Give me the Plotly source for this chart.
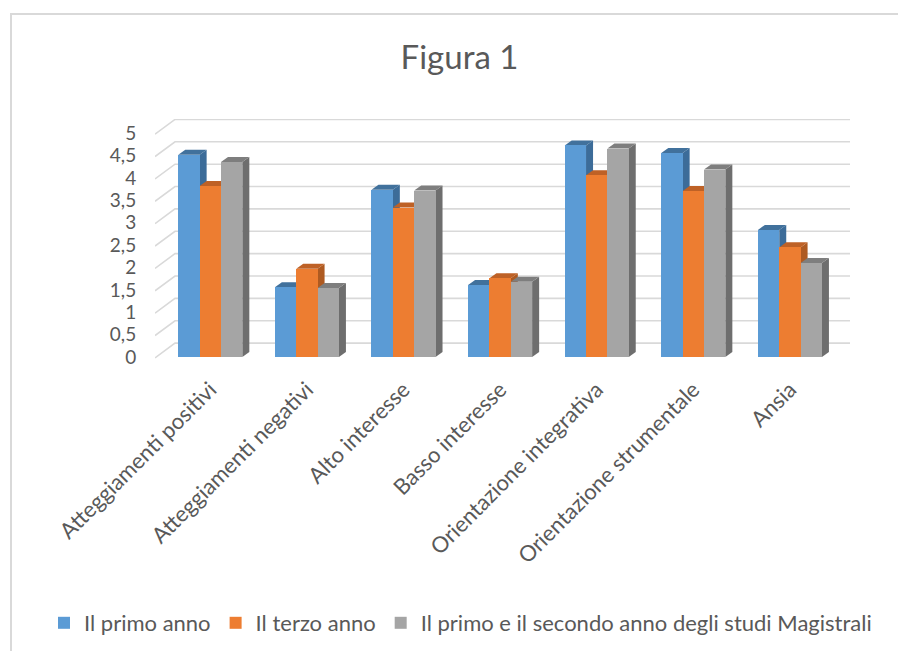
import plotly.graph_objects as go

categories = ["Atteggiamenti positivi", "Atteggiamenti negativi", "Alto interesse",
              "Basso interesse", "Orientazione integrativa", "Orientazione strumentale", "Ansia"]
series_names = ["Il primo anno", "Il terzo anno",
                "Il primo e il secondo anno degli studi Magistrali"]
primo = [4.52, 1.56, 3.74, 1.61, 4.73, 4.56, 2.84]
terzo = [3.82, 1.97, 3.34, 1.76, 4.06, 3.71, 2.45]
magistrali = [4.36, 1.54, 3.72, 1.68, 4.66, 4.19, 2.10]
tick_vals = [0, 0.5, 1, 1.5, 2, 2.5, 3, 3.5, 4, 4.5, 5]
tick_text = ["0", "0,5", "1", "1,5", "2", "2,5", "3", "3,5", "4", "4,5", "5"]

front_colors = ["#5B9BD5", "#ED7D31", "#A5A5A5"]
side_colors = ["#3C6C99", "#AE5A21", "#6E6E6E"]
top_colors = ["#41719C", "#BE6126", "#7E7E7E"]

FONT = "Lato, Open Sans, sans-serif"
TXT = "#595959"

W, H = 898, 651
L, R, T, B = 155, 48, 119, 290
bar_w = 0.221
ddx, ddy = 0.0725, 0.112        # bar depth (oblique projection)
fdx, fdy = 0.207, 0.31          # floor/wall depth
x_lo, x_hi = -0.5725, 6.622
y_lo, y_hi = -0.09, 5.32

pw, ph = W - L - R, H - T - B


def px_to_paper_x(px):
    return (px - L) / pw


def py_to_paper_y(py):
    return (H - B - py) / ph


fig = go.Figure()
shapes = []

# gridlines on side wall + back wall
for v in tick_vals:
    path = f"M {x_lo},{v - 0.02} L {x_lo + fdx},{v + fdy} L {x_hi},{v + fdy}"
    shapes.append(dict(type="path", path=path, xref="x", yref="y", layer="below",
                       line=dict(color="#D9D9D9", width=1.6)))

series = [primo, terzo, magistrali]
offsets = [-bar_w, 0.0, bar_w]
for s, (vals, off) in enumerate(zip(series, offsets)):
    xs = [i + off for i in range(len(categories))]
    fig.add_trace(go.Bar(x=xs, y=vals, width=bar_w, name=series_names[s],
                         marker=dict(color=front_colors[s], line=dict(width=0)),
                         hoverinfo="y+name"))
    for xc, v in zip(xs, vals):
        xl, xr = xc - bar_w / 2, xc + bar_w / 2
        side = f"M {xr},0 L {xr + ddx},{ddy} L {xr + ddx},{v + ddy} L {xr},{v} Z"
        top = f"M {xl},{v} L {xr},{v} L {xr + ddx},{v + ddy} L {xl + ddx},{v + ddy} Z"
        shapes.append(dict(type="path", path=side, xref="x", yref="y", layer="between",
                           fillcolor=side_colors[s], line=dict(width=0)))
        shapes.append(dict(type="path", path=top, xref="x", yref="y", layer="between",
                           fillcolor=top_colors[s], line=dict(width=0)))

# chart border
shapes.append(dict(type="rect", xref="paper", yref="paper",
                   x0=px_to_paper_x(11), x1=px_to_paper_x(910),
                   y0=py_to_paper_y(670), y1=py_to_paper_y(14),
                   line=dict(color="#D9D9D9", width=2), fillcolor="rgba(0,0,0,0)",
                   layer="below"))

fig.update_layout(
    width=W, height=H,
    margin=dict(l=L, r=R, t=T, b=B, autoexpand=False),
    paper_bgcolor="white", plot_bgcolor="white",
    barmode="overlay", bargap=0,
    shapes=shapes,
    font=dict(family=FONT, color=TXT, size=20),
    title=dict(text="Figura 1", x=459.5 / W, xref="container", xanchor="center",
               y=1 - 57 / H, yref="container", yanchor="middle",
               font=dict(family=FONT, size=33, color=TXT)),
    xaxis=dict(range=[x_lo, x_hi], tickmode="array",
               tickvals=list(range(len(categories))), ticktext=categories,
               tickangle=-45, showgrid=False, zeroline=False, showline=False,
               ticks="outside", ticklen=6, tickcolor="rgba(0,0,0,0)",
               automargin=False,
               tickfont=dict(size=22, color=TXT, family=FONT)),
    yaxis=dict(range=[y_lo, y_hi], tickmode="array", tickvals=tick_vals,
               ticktext=tick_text, showgrid=False, zeroline=False, showline=False,
               ticks="outside", ticklen=14, tickcolor="rgba(0,0,0,0)",
               automargin=False,
               tickfont=dict(size=19, color=TXT, family=FONT)),
    legend=dict(orientation="h", xref="paper", x=px_to_paper_x(44), xanchor="left",
                yref="paper", y=py_to_paper_y(602), yanchor="top",
                font=dict(size=22, color=TXT, family=FONT),
                itemwidth=30, tracegroupgap=0),
    showlegend=True,
)

fig.write_html("out.html", post_script="document.body.style.margin='0';",
               config={"displayModeBar": False})
